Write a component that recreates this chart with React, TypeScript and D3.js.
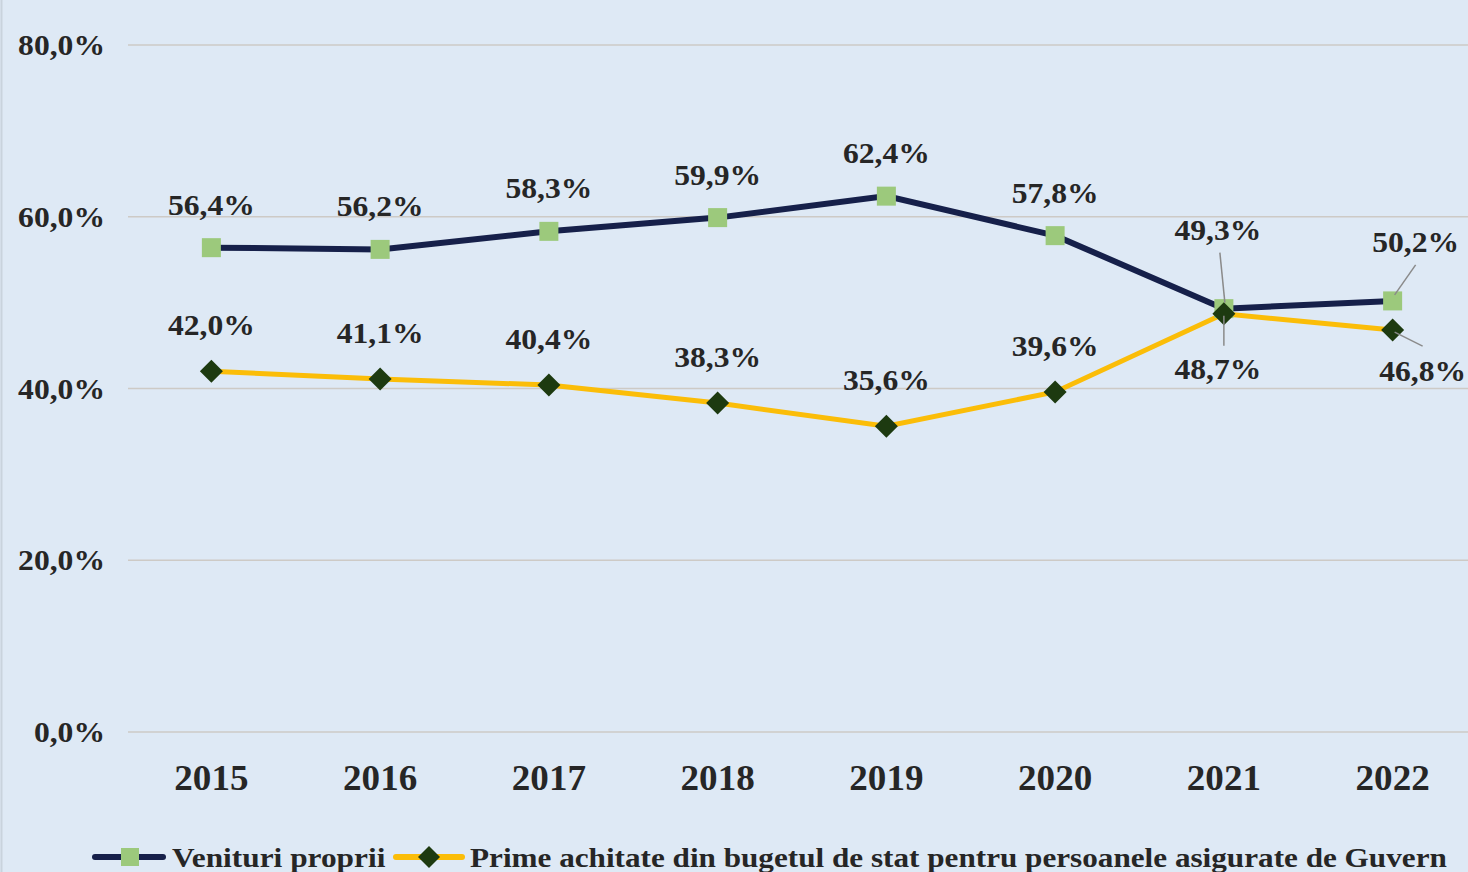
import * as React from 'react';
import * as d3 from 'd3';

const years = ['2015', '2016', '2017', '2018', '2019', '2020', '2021', '2022'];
const venituriProprii = [56.4, 56.2, 58.3, 59.9, 62.4, 57.8, 49.3, 50.2];
const primeAchitate = [42.0, 41.1, 40.4, 38.3, 35.6, 39.6, 48.7, 46.8];
const yTicks = [0, 20, 40, 60, 80];
const seriesNames = [
  'Venituri proprii',
  'Prime achitate din bugetul de stat pentru persoanele asigurate de Guvern',
];

const W = 1468;
const H = 872;
const FONT = '"Liberation Serif", "Times New Roman", serif';
const TEXT = '#262626';

const fmt = (v: number) => v.toFixed(1).replace('.', ',') + '%';

// the source image is slightly stretched sideways, so text gets a horizontal scale
const Txt: React.FC<{
  x: number;
  y: number;
  size: number;
  sx?: number;
  anchor?: 'start' | 'middle' | 'end';
  children: React.ReactNode;
}> = ({ x, y, size, sx = 1, anchor = 'start', children }) => (
  <text
    transform={`translate(${x},${y}) scale(${sx},1)`}
    textAnchor={anchor}
    fontSize={size}
    fontWeight="bold"
    fill={TEXT}
  >
    {children}
  </text>
);

// label offsets relative to the point; leader lines where Excel moved labels
type Lbl = { dx: number; dy: number; leader?: [number, number, number, number] };
const labels1: Record<string, Lbl> = {
  '2021': { dx: -6, dy: -69, leader: [1, -6, -4, -56] },
  '2022': { dx: 23, dy: -49, leader: [2, -6, 23, -36] },
};
const labels2: Record<string, Lbl> = {
  '2021': { dx: -6, dy: 65, leader: [0, 2, 0, 32] },
  '2022': { dx: 30, dy: 51, leader: [2, 2, 30, 16] },
};

export default function App() {
  const x = d3.scaleBand().domain(years).range([127, 1477]).padding(0);
  const cx = (d: string) => (x(d) ?? 0) + x.bandwidth() / 2;
  const y = d3.scaleLinear().domain([0, 80]).range([732, 45]);

  const line = d3
    .line<number>()
    .x((_, i) => cx(years[i]))
    .y((d) => y(d));

  const label = (vals: number[], custom: Record<string, Lbl>, baseDy: number) =>
    vals.map((v, i) => {
      const yr = years[i];
      const px = cx(yr);
      const py = y(v);
      const c = custom[yr] ?? { dx: 0, dy: baseDy };
      return (
        <g key={yr}>
          {c.leader && (
            <line
              x1={px + c.leader[0]}
              y1={py + c.leader[1]}
              x2={px + c.leader[2]}
              y2={py + c.leader[3]}
              stroke="#8a8a8a"
              strokeWidth={1.5}
            />
          )}
          <Txt x={px + c.dx} y={py + c.dy} size={29} sx={1.09} anchor="middle">
            {fmt(v)}
          </Txt>
        </g>
      );
    });

  const diamond = (px: number, py: number, r: number) =>
    `M${px},${py - r}L${px + r},${py}L${px},${py + r}L${px - r},${py}Z`;

  return (
    <svg
      width={W}
      height={H}
      style={{ position: 'absolute', left: 0, top: 0, fontFamily: FONT }}
    >
      <rect width={W} height={H} fill="#dee9f5" />
      <line x1={1.5} y1={0} x2={1.5} y2={H} stroke="#c9d3dd" strokeWidth={2} />

      {yTicks.map((t) => (
        <g key={t}>
          <line x1={128} x2={W} y1={y(t)} y2={y(t)} stroke="#cdcac6" strokeWidth={1.5} />
          <Txt x={105} y={y(t) + 10} size={29} sx={1.09} anchor="end">
            {t.toFixed(1).replace('.', ',') + '%'}
          </Txt>
        </g>
      ))}

      {years.map((yr) => (
        <Txt key={yr} x={cx(yr)} y={790} size={36} sx={1.03} anchor="middle">
          {yr}
        </Txt>
      ))}

      <path d={line(venituriProprii) ?? ''} fill="none" stroke="#16204a" strokeWidth={6} />
      <path d={line(primeAchitate) ?? ''} fill="none" stroke="#fbbd08" strokeWidth={5} />

      {venituriProprii.map((v, i) => (
        <rect
          key={i}
          x={cx(years[i]) - 9.5}
          y={y(v) - 9.5}
          width={19}
          height={19}
          fill="#9cc97c"
        />
      ))}
      {primeAchitate.map((v, i) => (
        <path key={i} d={diamond(cx(years[i]), y(v), 11.5)} fill="#1d3a10" />
      ))}

      {label(venituriProprii, labels1, -33)}
      {label(primeAchitate, labels2, -36)}

      {/* legend */}
      <g>
        <line x1={95} x2={163} y1={857} y2={857} stroke="#16204a" strokeWidth={6} strokeLinecap="round" />
        <rect x={121} y={848} width={18} height={18} fill="#9cc97c" />
        <Txt x={172} y={867} size={28} sx={1.12}>
          {seriesNames[0]}
        </Txt>
        <line x1={396} x2={462} y1={857} y2={857} stroke="#fbbd08" strokeWidth={6} strokeLinecap="round" />
        <path d={diamond(429, 857, 11)} fill="#1d3a10" />
        <Txt x={470} y={867} size={28} sx={1.114}>
          {seriesNames[1]}
        </Txt>
      </g>
    </svg>
  );
}
